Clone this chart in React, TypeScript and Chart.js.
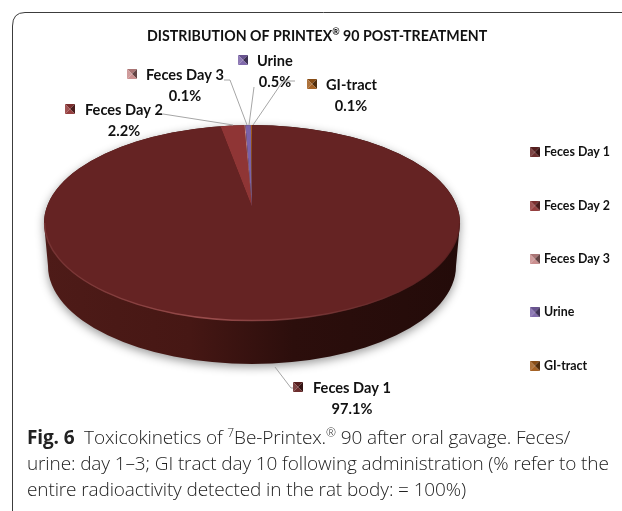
import React, { useEffect, useRef } from "react";
import { Chart, registerables } from "chart.js";

Chart.register(...registerables);

const categories = ["Feces Day 1", "Feces Day 2", "Feces Day 3", "Urine", "GI-tract"];
const shares = [97.1, 2.2, 0.1, 0.5, 0.1];
const sliceColors = ["#652323", "#8f3535", "#c88a8a", "#7a62a8", "#a05a1a"];

const FONT = "Lato, 'Open Sans', sans-serif";
const TOP = { cx: 252, cy: 223, rx: 208, ry: 98, apexY: 207, depth: 43 };
const calloutLayout = [
  { mx: 298, tx: 313, y: 388, px: 352, line: [[275, 367], [291, 388], [294, 388]] },
  { mx: 70, tx: 85, y: 110, px: 124, line: [[163, 114], [233, 125]] },
  { mx: 132, tx: 146, y: 75, px: 185, line: [[224, 80], [230, 80], [247, 125]] },
  { mx: 243, tx: 257, y: 61, px: 275, line: [[254, 87], [249, 125]] },
  { mx: 312, tx: 326, y: 85, px: 351, line: [[295, 81], [283, 81], [253, 125]] },
];

function shade(hex: string, k: number) {
  const n = parseInt(hex.slice(1), 16);
  const f = (v: number) => Math.max(0, Math.min(255, Math.round(k < 1 ? v * k : v + (255 - v) * (k - 1))));
  return `rgb(${f(n >> 16)},${f((n >> 8) & 255)},${f(n & 255)})`;
}

function marker(color: string, s = 10) {
  const c = document.createElement("canvas");
  c.width = s;
  c.height = s;
  const g = c.getContext("2d")!;
  const tri = (pts: number[][], fill: string) => {
    g.fillStyle = fill;
    g.beginPath();
    pts.forEach(([x, y], i) => (i ? g.lineTo(x, y) : g.moveTo(x, y)));
    g.closePath();
    g.fill();
  };
  const m = s / 2;
  tri([[0, 0], [s, 0], [m, m]], shade(color, 0.85));
  tri([[0, 0], [0, s], [m, m]], shade(color, 1.15));
  tri([[s, 0], [s, s], [m, m]], shade(color, 0.5));
  tri([[0, s], [s, s], [m, m]], shade(color, 1.05));
  return c;
}

const framePlugin = {
  id: "frame",
  beforeDraw(chart: any) {
    const g = chart.ctx;
    g.save();
    g.strokeStyle = "#3c3c3c";
    g.lineWidth = 1;
    g.beginPath();
    g.moveTo(622, 12.5);
    g.lineTo(25, 12.5);
    g.quadraticCurveTo(12.5, 12.5, 12.5, 26);
    g.lineTo(12.5, 511);
    g.stroke();
    g.fillStyle = "#111";
    g.textBaseline = "middle";
    g.font = `bold 14.2px ${FONT}`;
    const a = "DISTRIBUTION OF PRINTEX";
    const b = " 90 POST-TREATMENT";
    g.textAlign = "left";
    g.fillText(a, 147, 36);
    const w = g.measureText(a).width;
    g.font = `bold 9px ${FONT}`;
    g.fillText("®", 147 + w, 32);
    const w2 = g.measureText("®").width;
    g.font = `bold 14.2px ${FONT}`;
    g.fillText(b, 147 + w + w2, 36);
    g.restore();
  },
};

const piePlugin = {
  id: "flatPie",
  beforeDatasetsDraw(chart: any) {
    const g = chart.ctx;
    const { cx, cy, rx, ry, depth, apexY } = TOP;
    g.save();
    // extruded side
    const bx = rx - 4;
    const side = g.createLinearGradient(cx - rx, 0, cx + rx, 0);
    side.addColorStop(0, "#4e1b18");
    side.addColorStop(0.35, "#461714");
    side.addColorStop(0.6, "#2c0e0c");
    side.addColorStop(1, "#230b09");
    g.save();
    g.shadowColor = "rgba(0,0,0,0.4)";
    g.shadowBlur = 10;
    g.shadowOffsetY = 3;
    g.fillStyle = side;
    g.beginPath();
    g.ellipse(cx, cy, rx, ry, 0, Math.PI, 0, false);
    g.lineTo(cx + bx, cy + depth);
    g.ellipse(cx, cy + depth, bx, ry, 0, 0, Math.PI, false);
    g.closePath();
    g.fill();
    g.restore();
    // squashed top face
    const el = chart.getDatasetMeta(0).data[0];
    g.beginPath();
    g.ellipse(cx, cy, rx, ry, 0, 0, Math.PI * 2);
    g.clip();
    g.translate(cx, apexY);
    g.scale(1, ry / rx);
    g.translate(-el.x, -el.y);
  },
  afterDatasetsDraw(chart: any) {
    const g = chart.ctx;
    g.restore();
    const { cx, cy, rx, ry } = TOP;
    g.save();
    const rim = g.createLinearGradient(cx - rx, 0, cx + rx, 0);
    rim.addColorStop(0, "rgba(150,80,80,0.35)");
    rim.addColorStop(0.4, "rgba(165,85,85,0.85)");
    rim.addColorStop(0.75, "rgba(120,60,60,0.5)");
    rim.addColorStop(1, "rgba(60,20,20,0.2)");
    g.strokeStyle = rim;
    g.lineWidth = 1.5;
    g.beginPath();
    g.ellipse(cx, cy, rx - 0.5, ry - 0.5, 0, 0, Math.PI);
    g.stroke();
    g.restore();
  },
  afterDraw(chart: any) {
    const g = chart.ctx;
    g.save();
    g.textBaseline = "middle";
    chart.data.labels.forEach((name: string, i: number) => {
      const l = calloutLayout[i];
      g.strokeStyle = "#a6a6a6";
      g.lineWidth = 1;
      g.beginPath();
      l.line.forEach(([x, y], k) => (k ? g.lineTo(x, y) : g.moveTo(x, y)));
      g.stroke();
      g.drawImage(marker(sliceColors[i]), l.mx - 5, l.y - 6);
      g.fillStyle = "#111";
      g.font = `bold 14.6px ${FONT}`;
      g.textAlign = "left";
      g.fillText(name, l.tx, l.y);
      g.textAlign = "center";
      g.fillText(`${shares[i]}%`, l.px, l.y + 21);
    });
    g.restore();
  },
};

const captionStyle: React.CSSProperties = {
  position: "absolute",
  left: 27,
  whiteSpace: "nowrap",
  fontFamily: "'Open Sans', sans-serif",
  fontWeight: 300,
  fontSize: 19,
  lineHeight: "24px",
  color: "#222",
  letterSpacing: "-0.12px",
};
const supStyle: React.CSSProperties = { fontSize: 12, verticalAlign: "7px", lineHeight: 0 };

export default function App() {
  const ref = useRef<HTMLCanvasElement>(null);
  useEffect(() => {
    const chart = new Chart(ref.current!, {
      type: "pie",
      data: {
        labels: categories,
        datasets: [
          { data: shares, backgroundColor: sliceColors, borderWidth: 0, clip: false } as any,
        ],
      },
      options: {
        responsive: false,
        animation: false,
        rotation: 0,
        radius: 260,
        layout: { padding: { top: 7, bottom: 0, left: 0, right: 2 } },
        plugins: {
          title: { display: false },
          tooltip: { enabled: false },
          legend: {
            position: "right",
            align: "center",
            labels: {
              usePointStyle: true,
              pointStyleWidth: 6,
              padding: 41,
              color: "#111",
              font: { family: FONT, size: 12.4, weight: "bold" },
              generateLabels: () =>
                categories.map((text, i) => ({
                  text,
                  datasetIndex: 0,
                  index: i,
                  fillStyle: sliceColors[i],
                  strokeStyle: sliceColors[i],
                  lineWidth: 0,
                  hidden: false,
                  fontColor: "#111",
                  pointStyle: marker(sliceColors[i]),
                })),
            },
          },
        },
      } as any,
      plugins: [framePlugin, piePlugin],
    });
    return () => chart.destroy();
  }, []);
  return (
    <div style={{ position: "absolute", left: 0, top: 0, width: 622, height: 511, overflow: "hidden", background: "#fff" }}>
      <canvas ref={ref} width={622} height={511} style={{ display: "block" }} />
      <div style={{ ...captionStyle, top: 425 }}>
        <b style={{ fontWeight: 700 }}>Fig. 6</b>&nbsp; Toxicokinetics of <sup style={supStyle}>7</sup>Be-Printex.<sup style={supStyle}>®</sup> 90 after oral gavage. Feces/
      </div>
      <div style={{ ...captionStyle, top: 451 }}>urine: day 1–3; GI tract day 10 following administration (% refer to the</div>
      <div style={{ ...captionStyle, top: 477 }}>entire radioactivity detected in the rat body: = 100%)</div>
    </div>
  );
}
